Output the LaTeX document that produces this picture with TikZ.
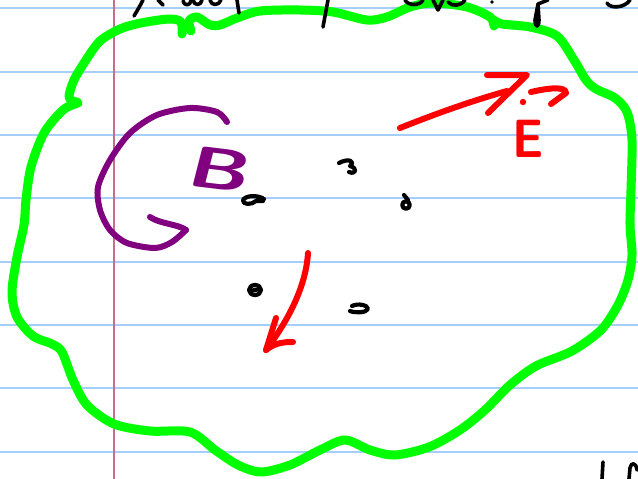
\documentclass[tikz,border=0pt]{standalone}
\definecolor{blueline}{RGB}{166,206,250}
\definecolor{marginline}{RGB}{196,112,140}
\definecolor{cloudgreen}{RGB}{0,255,0}
\definecolor{fieldpurple}{RGB}{128,0,128}
\definecolor{fieldred}{RGB}{255,0,0}
\begin{document}
\begin{tikzpicture}[x=1pt,y=-1pt,line cap=round,line join=round,
  paperline/.style={draw=blueline,line width=2pt},
  margin/.style={draw=marginline,line width=1.8pt},
  cloud/.style={draw=cloudgreen,line width=9pt},
  bfield/.style={draw=fieldpurple,line width=6pt},
  efield/.style={draw=fieldred,line width=6pt},
  ink/.style={draw=black,line width=3.6pt},
  blob/.style={draw=black,line width=4.2pt}]
\useasboundingbox (0,0) rectangle (638,479);
\clip (0,0) rectangle (638,479);
\fill[white] (0,0) rectangle (638,479);
% lined paper
\foreach \k in {0,...,7}{
  \draw[paperline] (0,{8.3+63.33*\k}) -- (638,{8.3+63.33*\k});
}
\draw[margin] (114,0) -- (114,479);
% green closed region (three strokes)
\draw[cloud] plot[smooth] coordinates {(182,34) (181,22) (169,19) (141,23) (120,29) (100,41) (86,60) (74,80) (69,96) (72,101) (77,102)};
\draw[cloud] plot[smooth] coordinates {(78,103) (63,110) (44,133) (31,167) (26,200) (24,225) (17,257) (12,292) (17,317) (33,336) (52,344) (62,352) (73,380) (87,405) (114,424) (150,431) (190,432) (215,450) (238,465) (261,472) (290,465) (320,450) (345,440) (370,450) (395,455) (429,447) (460,430) (485,410) (510,385) (536,366) (572,351) (601,330) (618,305) (628,280) (632,255) (630,225) (631,190) (632,140) (627,112) (615,98) (596,89) (586,80) (574,60) (557,36) (530,27) (502,24) (494,20)};
\draw[cloud] plot[smooth] coordinates {(494,26) (490,17) (467,7) (433,3) (410,7) (387,17) (367,20) (333,12) (300,10) (260,11) (237,18) (220,25) (210,25) (197,17) (189,21) (191,31)};
% handwriting cut at the top
\draw[ink] (143,0) .. controls (140,6) and (137,11) .. (134,16);
\draw[ink] (158,0) -- (163,5);
\draw[ink] (183,1) .. controls (184,6) and (190,6) .. (191,1);
\draw[ink] (193,0) .. controls (194,6) and (201,6) .. (202,0);
\draw[ink] (210,0) .. controls (211,6) and (219,6) .. (221,0);
\draw[ink] (237,0) -- (239,13);
\draw[ink] (328,0) -- (323,27);
\draw[ink] (405,0) .. controls (408,6) and (420,6) .. (423,0);
\draw[ink] (433,0) -- (438,10) -- (443,0);
\draw[ink] (448,2) .. controls (452,7) and (461,6) .. (465,0);
\fill (492,2) circle (1.8pt);
\draw[ink] (548,0) -- (538,4) -- (535,20) .. controls (535,28) and (539,28) .. (539,20) -- (538,4);
\draw[ink] (607,3) .. controls (610,9) and (625,8) .. (630,0);
% handwriting cut at the bottom right
\draw[ink] (603,462) -- (602,479);
\draw[ink] (629,479) -- (630,468) .. controls (631,462) and (636,462) .. (637,470);
% small charges
\draw[blob] (264,199) .. controls (258,195) and (246,195) .. (243,200) .. controls (242,205) and (252,205) .. (256,201) -- (263,201);
\draw[blob] (339,163) .. controls (348,158) and (356,161) .. (350,166) .. controls (358,168) and (356,175) .. (349,172);
\draw[blob] (404,195) -- (408,200);
\draw[blob] (406,205) circle (3.8pt);
\draw[blob] (255,290) ellipse (6pt and 5pt);
\draw[blob] (250,291) -- (260,289);
\draw[blob] (352,306) .. controls (358,303) and (368,305) .. (368,309) .. controls (366,313) and (355,313) .. (350,311);
% magnetic field curl
\draw[bfield] plot[smooth] coordinates {(227,122) (217,112) (190,108) (157,115) (130,133) (110,160) (98,187) (100,210) (110,230) (127,243) (155,248) (172,242) (186,230)};
\draw[bfield] (186,230) .. controls (178,224) and (160,224) .. (150,217);
\node[text=fieldpurple,font=\sffamily\bfseries\fontsize{58}{58}\selectfont,xscale=1.45,inner sep=0pt,rotate=-10] (blabel) at (221,169) {B};
% electric field arrows
\draw[efield] (400,128) .. controls (440,112) and (475,100) .. (507,91);
\draw[efield] (487,75) -- (527,75) -- (488,113);
\draw[efield] (308,253) .. controls (306,285) and (290,318) .. (266,350);
\draw[efield] (276,318) -- (266,350) .. controls (275,343) and (283,342) .. (293,342);
\node[text=fieldred,font=\sffamily\bfseries\fontsize{54}{54}\selectfont,xscale=0.9,inner sep=0pt] (elabel) at (528,139) {E};
\fill[fieldred] (523,102) circle (3.2pt);
\draw[efield] (531,92) .. controls (548,88) and (566,86) .. (566,93) -- (551,104);
\end{tikzpicture}
\end{document}
